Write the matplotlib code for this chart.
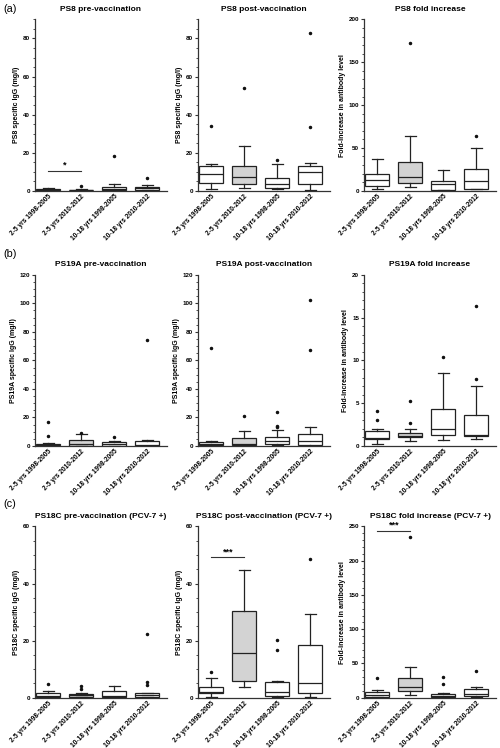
import matplotlib
matplotlib.use("Agg")
import matplotlib.pyplot as plt
from matplotlib.ticker import MultipleLocator, AutoMinorLocator

plt.rcParams["font.family"] = ["Liberation Sans", "DejaVu Sans"]

groups = ["2-5 yrs 1998-2005", "2-5 yrs 2010-2012",
          "10-18 yrs 1998-2005", "10-18 yrs 2010-2012"]

# per group: lower whisker, Q1, median, Q3, upper whisker
ps8_pre = [[0.1, 0.3, 0.6, 1.0, 1.3], [0.05, 0.2, 0.4, 0.6, 0.8],
           [0.1, 0.4, 0.9, 1.8, 3.3], [0.2, 0.6, 1.5, 2.2, 2.8]]
ps8_pre_out = [[], [2.5], [18.2], [6.5]]
ps8_post = [[0.7, 4.2, 8.7, 12.8, 13.8], [1.2, 3.8, 7.0, 13.1, 23.3],
            [0.7, 1.4, 3.7, 6.8, 14.3], [0.5, 3.7, 9.6, 13.1, 14.7]]
ps8_post_out = [[34.0], [53.9], [16.4], [33.4, 83.0]]
ps8_fold = [[1.5, 5.8, 12.3, 19.6, 36.5], [4.2, 9.2, 16.2, 33.8, 63.8],
            [0.8, 1.2, 7.3, 11.9, 24.2], [1.5, 2.3, 11.2, 25.4, 50.0]]
ps8_fold_out = [[], [173.0], [], [64.2]]

ps19a_pre = [[0.2, 0.5, 1.0, 1.7, 2.3], [0.1, 0.3, 1.2, 4.0, 8.2],
             [0.1, 0.3, 1.2, 2.8, 3.3], [0.1, 0.3, 1.0, 3.3, 4.2]]
ps19a_pre_out = [[7.2, 16.5], [9.3], [6.3], [74.4]]
ps19a_post = [[0.3, 0.7, 1.4, 2.8, 3.3], [0.3, 0.7, 1.4, 5.3, 10.2],
              [0.5, 1.4, 3.3, 6.0, 11.4], [0.3, 0.9, 3.5, 8.1, 13.0]]
ps19a_post_out = [[69.0], [21.2], [13.0, 13.7, 23.5], [67.0, 102.6]]
ps19a_fold = [[0.27, 0.8, 0.9, 1.7, 2.0], [0.6, 1.05, 1.2, 1.55, 2.0],
              [0.7, 1.3, 2.0, 4.3, 8.5], [0.78, 1.17, 1.3, 3.6, 7.0]]
ps19a_fold_out = [[3.0, 4.1], [2.7, 5.2], [10.4], [7.8, 16.4]]

ps18c_pre = [[0.1, 0.35, 0.6, 1.5, 2.3], [0.1, 0.35, 0.8, 1.3, 1.5],
             [0.05, 0.2, 0.6, 2.2, 4.0], [0.1, 0.35, 0.8, 1.5, 1.7]]
ps18c_pre_out = [[4.8], [2.9, 4.0], [], [4.5, 5.5, 22.3]]
ps18c_post = [[0.2, 1.5, 1.9, 3.8, 7.0], [3.6, 5.8, 15.5, 30.5, 44.9],
              [0.2, 0.7, 1.9, 5.6, 5.9], [0.1, 1.6, 5.0, 18.5, 29.3]]
ps18c_post_out = [[9.1], [], [16.7, 20.3], [48.6]]
ps18c_fold = [[0.5, 1.4, 3.4, 8.2, 10.6], [4.3, 9.2, 15.0, 29.5, 44.4],
              [0.2, 0.5, 2.9, 5.8, 6.8], [1.0, 2.4, 5.3, 12.6, 16.0]]
ps18c_fold_out = [[29.0], [234.8], [19.8, 30.4], [38.6]]

titles = [["PS8 pre-vaccination", "PS8 post-vaccination", "PS8 fold increase"],
          ["PS19A pre-vaccination", "PS19A post-vaccination", "PS19A fold increase"],
          ["PS18C pre-vaccination (PCV-7 +)", "PS18C post-vaccination (PCV-7 +)",
           "PS18C fold increase (PCV-7 +)"]]
ylabels = [["PS8 specific IgG (mg/l)", "PS8 specific IgG (mg/l)", "Fold-increase in antibody level"],
           ["PS19A specific IgG (mg/l)", "PS19A specific IgG (mg/l)", "Fold-increase in antibody level"],
           ["PS18C specific IgG (mg/l)", "PS18C specific IgG (mg/l)", "Fold-increase in antibody level"]]
stats = [[(ps8_pre, ps8_pre_out), (ps8_post, ps8_post_out), (ps8_fold, ps8_fold_out)],
         [(ps19a_pre, ps19a_pre_out), (ps19a_post, ps19a_post_out), (ps19a_fold, ps19a_fold_out)],
         [(ps18c_pre, ps18c_pre_out), (ps18c_post, ps18c_post_out), (ps18c_fold, ps18c_fold_out)]]
ymax = [[90, 90, 200], [120, 120, 20], [60, 60, 250]]
ystep = [[20, 20, 50], [20, 20, 5], [20, 20, 50]]
# significance bars between group 1 and 2: (row, col, bar height, label)
sig = [(0, 0, 10.5, "*"), (2, 1, 49.2, "***"), (2, 2, 244, "***")]
fills = ["white", "#d3d3d3", "white", "white"]

fig = plt.figure(figsize=(5.0, 7.48), dpi=100)
lefts = [0.070, 0.396, 0.728]
bottoms = [0.745, 0.4037, 0.0672]
W, H = 0.264, 0.229
letters = ["(a)", "(b)", "(c)"]
letter_y = [0.988, 0.661, 0.326]

for r in range(3):
    fig.text(0.006, letter_y[r], letters[r], fontsize=7.8, va="center", ha="left")
    for c in range(3):
        ax = fig.add_axes([lefts[c], bottoms[r], W, H])
        box, out = stats[r][c]
        bstats = []
        for g in range(4):
            lo, q1, med, q3, hi = box[g]
            bstats.append(dict(whislo=lo, q1=q1, med=med, q3=q3, whishi=hi, fliers=out[g]))
        arts = ax.bxp(bstats, positions=[1, 2, 3, 4], widths=0.72, patch_artist=True,
                      showfliers=True, capwidths=0.34,
                      boxprops=dict(linewidth=0.9, edgecolor="#222222"),
                      medianprops=dict(color="#222222", linewidth=0.9),
                      whiskerprops=dict(color="#222222", linewidth=0.9),
                      capprops=dict(color="#222222", linewidth=0.9),
                      flierprops=dict(marker="o", markersize=1.5, markerfacecolor="#111111",
                                      markeredgecolor="#111111", linestyle="none"))
        for patch, fc in zip(arts["boxes"], fills):
            patch.set_facecolor(fc)
        ax.set_xlim(0.6, 4.6)
        ax.set_ylim(0, ymax[r][c])
        ax.yaxis.set_major_locator(MultipleLocator(ystep[r][c]))
        ax.yaxis.set_minor_locator(AutoMinorLocator(4 if ystep[r][c] == 20 else 5))
        for s in ["top", "right"]:
            ax.spines[s].set_visible(False)
        for s in ["left", "bottom"]:
            ax.spines[s].set_linewidth(0.9)
            ax.spines[s].set_color("#333333")
        ax.tick_params(axis="y", which="major", length=2.5, width=0.8, labelsize=4.5,
                       pad=1, color="#333333")
        ax.tick_params(axis="y", which="minor", length=1.5, width=0.6, color="#333333")
        ax.tick_params(axis="x", length=0, labelsize=4.8, pad=1.5)
        ax.set_xticks([1, 2, 3, 4])
        ax.set_xticklabels(groups, rotation=45, ha="right", rotation_mode="anchor",
                           fontweight="bold")
        for lab in ax.get_yticklabels():
            lab.set_fontweight("bold")
        ax.set_ylabel(ylabels[r][c], fontsize=5.0, fontweight="bold", labelpad=2)
        ax.set_title(titles[r][c], fontsize=6.0, fontweight="bold", pad=6)

        for (sr, sc, h, txt) in sig:
            if sr == r and sc == c:
                ax.plot([1, 2], [h, h], color="#333333", linewidth=0.8, clip_on=False)
                ax.text(1.5, h + ymax[r][c] * 0.005, txt, ha="center", va="bottom",
                        fontsize=6.5, fontweight="bold", clip_on=False)

fig.savefig("out.png", dpi=100)
